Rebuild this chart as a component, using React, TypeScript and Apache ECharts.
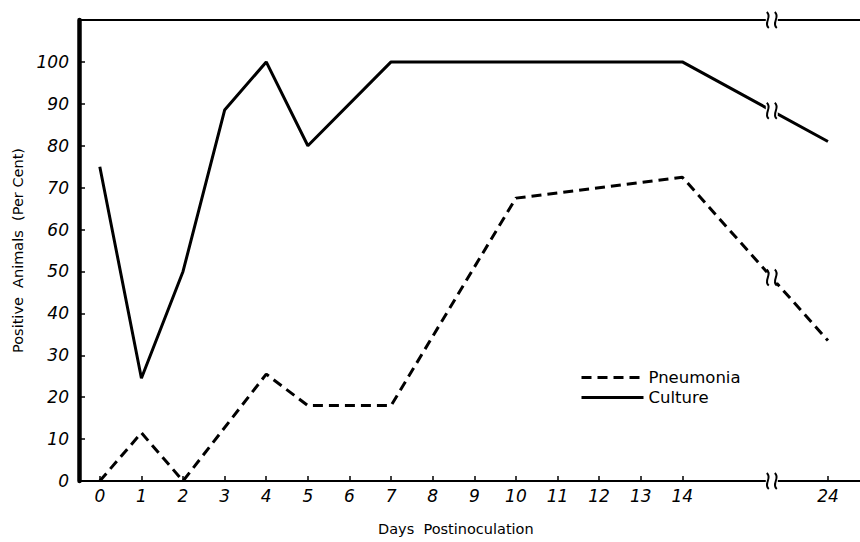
import React, { useEffect, useRef } from "react";
import * as echarts from "echarts";

const cultureDays = [0, 1, 2, 3, 4, 5, 7, 14, 24];
const cultureValues = [75, 24.5, 50, 88.5, 100, 80, 100, 100, 81];
const pneumoniaDays = [0, 1, 2, 4, 5, 7, 10, 14, 24];
const pneumoniaValues = [0, 11.5, 0, 25.5, 18, 18, 67.5, 72.5, 33.5];
const xTickDays = [0, 1, 2, 3, 4, 5, 6, 7, 8, 9, 10, 11, 12, 13, 14, 24];
const yTicks = [0, 10, 20, 30, 40, 50, 60, 70, 80, 90, 100];

// compressed scale after the axis break
const SCALE_AFTER = 0.35;
const toPos = (d: number) => (d <= 14 ? d : 14 + (d - 14) * SCALE_AFTER);
const fromPos = (p: number) => (p <= 14 ? p : 14 + (p - 14) / SCALE_AFTER);
const BREAK_POS = 16.15;

const FONT = "DejaVu Sans";

function interpAt(xs: number[], ys: number[], p: number) {
  for (let i = 0; i < xs.length - 1; i++) {
    const a = toPos(xs[i]);
    const b = toPos(xs[i + 1]);
    if (p >= a && p <= b) return ys[i] + ((ys[i + 1] - ys[i]) * (p - a)) / (b - a);
  }
  return ys[ys.length - 1];
}

function breakMark(cx: number, cy: number) {
  const h = 8;
  const els: any[] = [
    {
      type: "rect",
      shape: { x: cx - 6, y: cy - 5, width: 12, height: 10 },
      style: { fill: "#fff" },
      z: 100,
    },
  ];
  [-4, 4].forEach((dx) => {
    const x = cx + dx;
    els.push({
      type: "bezierCurve",
      shape: {
        x1: x - 1,
        y1: cy - h,
        cpx1: x + 5,
        cpy1: cy - 3,
        cpx2: x - 5,
        cpy2: cy + 3,
        x2: x + 1,
        y2: cy + h,
      },
      style: { stroke: "#000", lineWidth: 2, fill: null },
      z: 101,
    });
  });
  return els;
}

export default function App() {
  const ref = useRef<HTMLDivElement>(null);
  useEffect(() => {
    if (!ref.current) return;
    const chart = echarts.init(ref.current, null, { renderer: "svg" });
    const option: any = {
      animation: false,
      backgroundColor: "#fff",
      grid: { left: 79, right: 0, top: 20, bottom: 61, containLabel: false },
      xAxis: [
        {
          type: "value",
          min: -0.5,
          max: 18.27,
          splitLine: { show: false },
          axisLine: { show: true, onZero: false, lineStyle: { color: "#000", width: 2 } },
          axisTick: {
            show: true,
            inside: true,
            length: 5,
            customValues: xTickDays.map(toPos),
            lineStyle: { color: "#000", width: 1.5 },
          },
          axisLabel: {
            customValues: xTickDays.map(toPos),
            formatter: (v: number) => String(Math.round(fromPos(v))),
            fontFamily: FONT,
            fontStyle: "italic",
            fontSize: 17,
            color: "#000",
            margin: 6,
          },
        },
        {
          type: "value",
          position: "top",
          min: -0.5,
          max: 18.27,
          splitLine: { show: false },
          axisLine: { show: true, onZero: false, lineStyle: { color: "#000", width: 2 } },
          axisTick: { show: false },
          axisLabel: { show: false },
        },
      ],
      yAxis: {
        type: "value",
        min: 0,
        max: 110,
        interval: 10,
        name: "Positive  Animals  (Per Cent)",
        nameLocation: "middle",
        nameGap: 52,
        nameTextStyle: { fontFamily: FONT, fontSize: 14.5, color: "#000" },
        splitLine: { show: false },
        axisLine: { show: true, onZero: false, lineStyle: { color: "#000", width: 4.5 } },
        axisTick: { show: true, inside: true, length: 6, lineStyle: { color: "#000", width: 1.5 } },
        axisLabel: {
          formatter: (v: number) => (yTicks.indexOf(v) >= 0 ? String(v) : ""),
          fontFamily: FONT,
          fontStyle: "italic",
          fontSize: 17,
          color: "#000",
          margin: 10,
        },
      },
      legend: {
        orient: "vertical",
        left: 580,
        top: 369,
        itemWidth: 62,
        itemHeight: 12,
        itemGap: 3,
        padding: 0,
        data: ["Pneumonia", "Culture"],
        itemStyle: { opacity: 0 },
        lineStyle: { width: 3 },
        textStyle: { fontFamily: FONT, fontSize: 16.5, color: "#000" },
      },
      series: [
        {
          name: "Pneumonia",
          type: "line",
          symbol: "none",
          data: pneumoniaDays.map((d, i) => [toPos(d), pneumoniaValues[i]]),
          lineStyle: { color: "#000", width: 3, type: [10, 6] },
          itemStyle: { color: "#000" },
        },
        {
          name: "Culture",
          type: "line",
          symbol: "none",
          data: cultureDays.map((d, i) => [toPos(d), cultureValues[i]]),
          lineStyle: { color: "#000", width: 3 },
          itemStyle: { color: "#000" },
        },
      ],
      graphic: [
        {
          type: "text",
          left: 378,
          top: 521,
          style: { text: "Days  Postinoculation", font: `14.5px "${FONT}"`, fill: "#000" },
        },
      ],
    };
    chart.setOption(option);

    const pt = (p: number, v: number) => chart.convertToPixel({ gridIndex: 0 }, [p, v]) as number[];
    const top = pt(BREAK_POS, 110);
    const bottom = pt(BREAK_POS, 0);
    const c = pt(BREAK_POS, interpAt(cultureDays, cultureValues, BREAK_POS));
    const pn = pt(BREAK_POS, interpAt(pneumoniaDays, pneumoniaValues, BREAK_POS));
    const marks = [
      ...breakMark(top[0], top[1]),
      ...breakMark(bottom[0], bottom[1]),
      ...breakMark(c[0], c[1]),
      ...breakMark(pn[0], pn[1]),
    ];
    chart.setOption({ graphic: [option.graphic[0], ...marks] });

    return () => chart.dispose();
  }, []);
  return <div ref={ref} style={{ width: 860, height: 542, position: "absolute", left: 0, top: 0 }} />;
}
